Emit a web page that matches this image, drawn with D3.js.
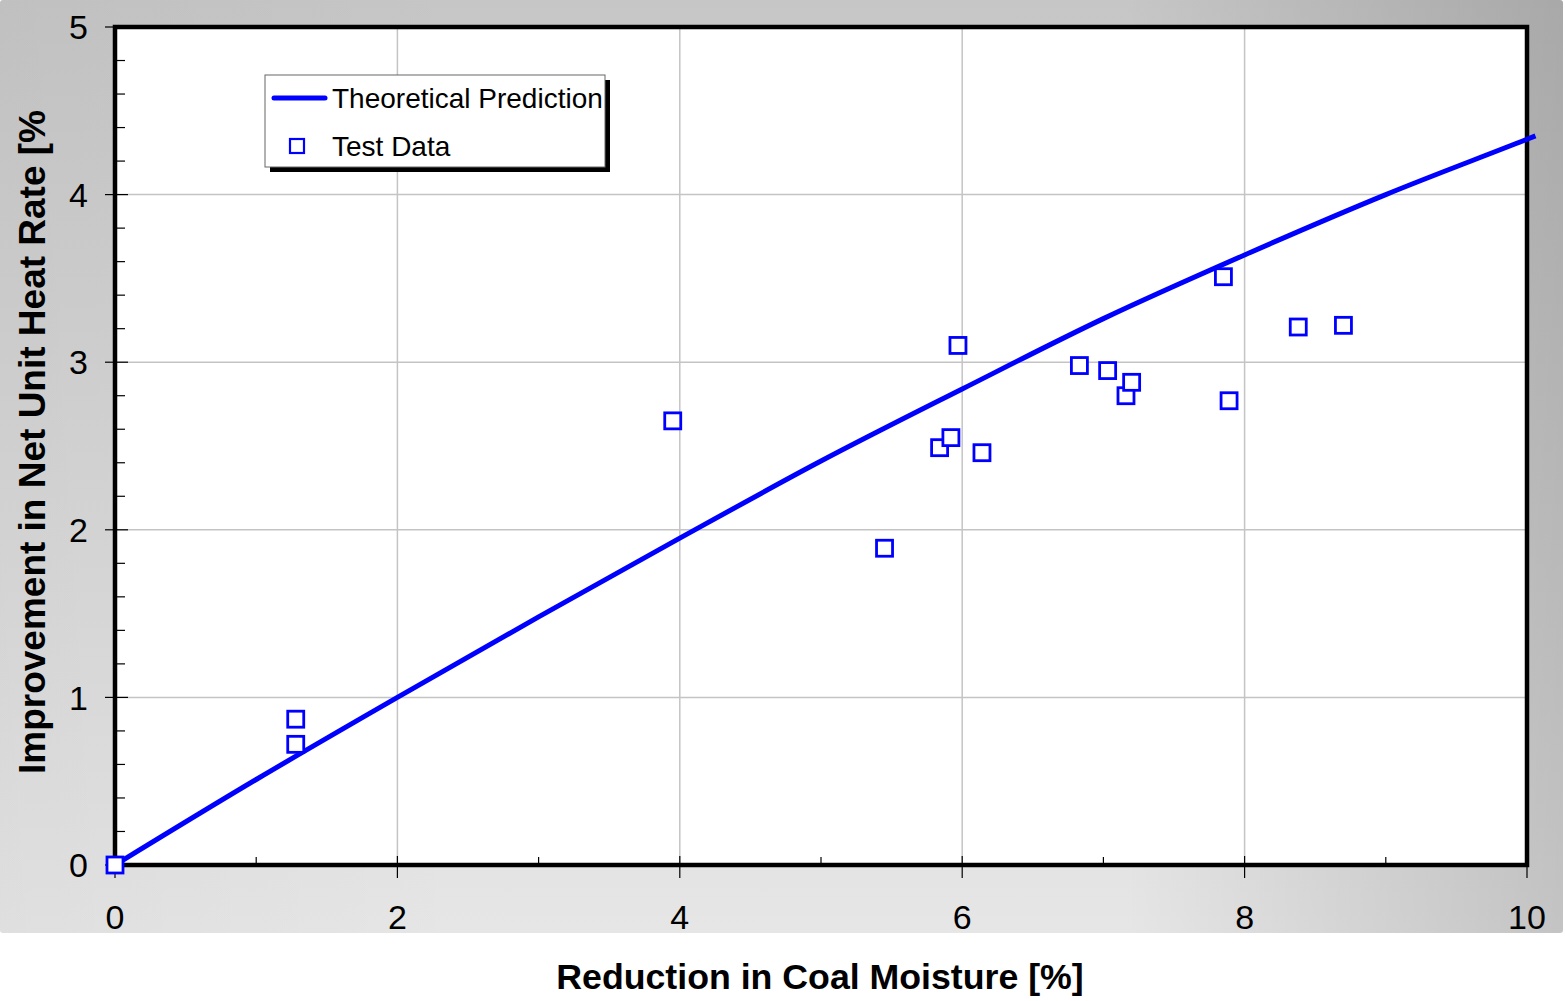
<!DOCTYPE html>
<html>
<head>
<meta charset="utf-8">
<script src="https://cdn.jsdelivr.net/npm/d3@7"></script>
<style>
  body { margin: 0; background: #fff; }
  svg { display: block; font-family: Arial, "Liberation Sans", sans-serif; }
</style>
</head>
<body>
<div id="chart"></div>
<script>
// theoretical prediction curve
const predX = [0, 1, 2, 3, 4, 5, 6, 7, 8, 9, 10, 10.06];
const predY = [0, 0.51, 1.00, 1.48, 1.95, 2.41, 2.84, 3.26, 3.64, 4.00, 4.33, 4.35];

// test data points
const testX = [0, 1.28, 1.28, 3.95, 5.45, 5.84, 5.92, 5.97, 6.14, 6.83, 7.03, 7.16, 7.20, 7.85, 7.89, 8.38, 8.70];
const testY = [0, 0.87, 0.72, 2.65, 1.89, 2.49, 2.55, 3.10, 2.46, 2.98, 2.95, 2.80, 2.88, 3.51, 2.77, 3.21, 3.22];

const xTicks = [0, 2, 4, 6, 8, 10];
const yTicks = [0, 1, 2, 3, 4, 5];
const xTitle = 'Reduction in Coal Moisture [%]';
const yTitle = 'Improvement in Net Unit Heat Rate [%';
const seriesNames = ['Theoretical Prediction', 'Test Data'];

const W = 1565, H = 1001;
const plot = { left: 115, right: 1527, top: 27, bottom: 865 };
const blue = '#0000ff';

const svg = d3.select('#chart').append('svg')
    .attr('width', W)
    .attr('height', H);

const defs = svg.append('defs');
const bgV = defs.append('linearGradient').attr('id', 'bgV')
    .attr('x1', 0).attr('y1', 0).attr('x2', 0).attr('y2', 1);
bgV.append('stop').attr('offset', 0).attr('stop-color', '#c6c6c6');
bgV.append('stop').attr('offset', 1).attr('stop-color', '#e6e6e6');

const bgH = defs.append('linearGradient').attr('id', 'bgH')
    .attr('x1', 0).attr('y1', 0).attr('x2', 1).attr('y2', 0);
bgH.append('stop').attr('offset', 0).attr('stop-color', '#000').attr('stop-opacity', 0.03);
bgH.append('stop').attr('offset', 0.3).attr('stop-color', '#000').attr('stop-opacity', 0);
bgH.append('stop').attr('offset', 0.72).attr('stop-color', '#000').attr('stop-opacity', 0);
bgH.append('stop').attr('offset', 1).attr('stop-color', '#000').attr('stop-opacity', 0.15);

// gray backdrop
svg.append('rect').attr('x', 0).attr('y', 0).attr('width', 1563).attr('height', 933)
    .attr('rx', 3).attr('fill', 'url(#bgV)');
svg.append('rect').attr('x', 0).attr('y', 0).attr('width', 1563).attr('height', 933)
    .attr('rx', 3).attr('fill', 'url(#bgH)');

const x = d3.scaleLinear().domain([0, 10]).range([plot.left, plot.right]);
const y = d3.scaleLinear().domain([0, 5]).range([plot.bottom, plot.top]);

// plot area
svg.append('rect')
    .attr('x', plot.left).attr('y', plot.top)
    .attr('width', plot.right - plot.left).attr('height', plot.bottom - plot.top)
    .attr('fill', '#fff');

// gridlines
const grid = svg.append('g').attr('stroke', '#c4c4c4').attr('stroke-width', 1.5);
grid.selectAll('.gx').data(xTicks.slice(1, -1)).enter().append('line')
    .attr('x1', d => x(d)).attr('x2', d => x(d))
    .attr('y1', plot.top).attr('y2', plot.bottom);
grid.selectAll('.gy').data(yTicks.slice(1, -1)).enter().append('line')
    .attr('x1', plot.left).attr('x2', plot.right)
    .attr('y1', d => y(d)).attr('y2', d => y(d));

// ticks
const ticks = svg.append('g').attr('stroke', '#000').attr('stroke-width', 1.2);
ticks.selectAll('.ty').data(yTicks).enter().append('line')
    .attr('x1', plot.left - 10).attr('x2', plot.left + 13)
    .attr('y1', d => y(d)).attr('y2', d => y(d));
ticks.selectAll('.tym').data(d3.range(0, 5, 0.2).filter(v => Math.abs(v - Math.round(v)) > 0.01)).enter().append('line')
    .attr('x1', plot.left).attr('x2', plot.left + 10)
    .attr('y1', d => y(d)).attr('y2', d => y(d));
ticks.selectAll('.tx').data(xTicks).enter().append('line')
    .attr('x1', d => x(d)).attr('x2', d => x(d))
    .attr('y1', plot.bottom - 9).attr('y2', plot.bottom + 13);
ticks.selectAll('.txm').data([1, 3, 5, 7, 9]).enter().append('line')
    .attr('x1', d => x(d)).attr('x2', d => x(d))
    .attr('y1', plot.bottom - 8).attr('y2', plot.bottom);

// frame
svg.append('rect')
    .attr('x', plot.left).attr('y', plot.top)
    .attr('width', plot.right - plot.left).attr('height', plot.bottom - plot.top)
    .attr('fill', 'none').attr('stroke', '#000').attr('stroke-width', 4.5);

// tick labels
svg.append('g').selectAll('text').data(yTicks).enter().append('text')
    .attr('x', 88).attr('y', d => y(d)).attr('dy', '0.36em')
    .attr('text-anchor', 'end').attr('font-size', 34).attr('fill', '#000')
    .text(d => d);
svg.append('g').selectAll('text').data(xTicks).enter().append('text')
    .attr('x', d => x(d)).attr('y', 929)
    .attr('text-anchor', 'middle').attr('font-size', 34).attr('fill', '#000')
    .text(d => d);

// theoretical curve
const pred = predX.map((v, i) => ({ x: v, y: predY[i] }));
const line = d3.line().x(d => x(d.x)).y(d => y(d.y)).curve(d3.curveMonotoneX);
svg.append('path').datum(pred)
    .attr('d', line)
    .attr('fill', 'none').attr('stroke', blue).attr('stroke-width', 5);

// test data
const test = testX.map((v, i) => ({ x: v, y: testY[i] }));
const sz = 16;
svg.append('g').selectAll('rect').data(test).enter().append('rect')
    .attr('x', d => x(d.x) - sz / 2).attr('y', d => y(d.y) - sz / 2)
    .attr('width', sz).attr('height', sz)
    .attr('fill', '#fff').attr('stroke', blue).attr('stroke-width', 2.8);

// legend
const lg = svg.append('g');
lg.append('rect').attr('x', 270).attr('y', 80).attr('width', 340).attr('height', 92).attr('fill', '#000');
lg.append('rect').attr('x', 265).attr('y', 75).attr('width', 340).attr('height', 92)
    .attr('fill', '#fff').attr('stroke', '#666').attr('stroke-width', 1);
lg.append('line').attr('x1', 274).attr('x2', 325).attr('y1', 98).attr('y2', 98)
    .attr('stroke', blue).attr('stroke-width', 5).attr('stroke-linecap', 'round');
lg.append('rect').attr('x', 297 - 7).attr('y', 146 - 7).attr('width', 14).attr('height', 14)
    .attr('fill', '#fff').attr('stroke', blue).attr('stroke-width', 2.2);
lg.selectAll('text').data(seriesNames).enter().append('text')
    .attr('x', 332).attr('y', (d, i) => 108 + i * 48)
    .attr('font-size', 28).attr('fill', '#000')
    .text(d => d);

// axis titles
svg.append('text')
    .attr('x', 820).attr('y', 989)
    .attr('text-anchor', 'middle').attr('font-size', 35.7).attr('font-weight', 'bold').attr('fill', '#000')
    .text(xTitle);
svg.append('text')
    .attr('transform', 'translate(45,442) rotate(-90)')
    .attr('text-anchor', 'middle').attr('font-size', 37).attr('font-weight', 'bold').attr('fill', '#000')
    .text(yTitle);
</script>
</body>
</html>
